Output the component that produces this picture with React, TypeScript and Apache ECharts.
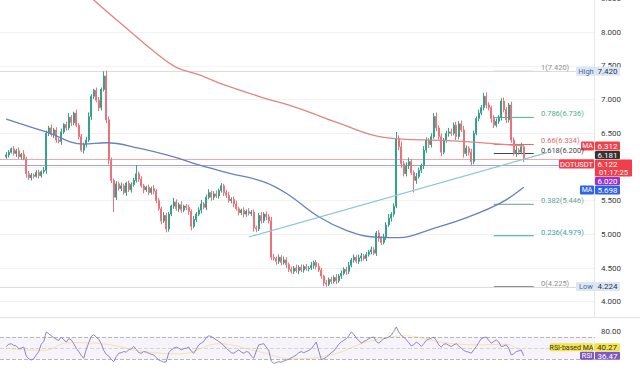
import React, { useEffect, useRef } from "react";
import * as echarts from "echarts";

// ---------- DATA ----------
const firstOpen = 6.15;
const closes = [
  6.18, 6.22, 6.27, 6.2, 6.24, 6.15, 6.19, 6.12, 5.9, 5.84,
  5.88, 5.86, 5.92, 5.87, 5.93, 5.95, 6.5, 6.58, 6.48, 6.55,
  6.4, 6.38, 6.52, 6.63, 6.58, 6.74, 6.66, 6.8, 6.62, 6.45,
  6.25, 6.33, 6.4, 6.75, 7.05, 7.14, 6.99, 6.88, 7.15, 7.35,
  6.7, 6.1, 5.8, 5.55, 5.75, 5.68, 5.72, 5.62, 5.76, 5.66,
  5.74, 5.8, 5.9, 5.82, 5.72, 5.66, 5.7, 5.62, 5.68, 5.64,
  5.5, 5.38, 5.2, 5.28, 5.08, 5.3, 5.42, 5.48, 5.38, 5.44,
  5.36, 5.42, 5.4, 5.34, 5.12, 5.22, 5.3, 5.36, 5.45, 5.4,
  5.55, 5.62, 5.55, 5.6, 5.57, 5.65, 5.72, 5.62, 5.58, 5.5,
  5.52, 5.45, 5.38, 5.32, 5.36, 5.3, 5.34, 5.31, 5.33, 5.1,
  5.08, 5.28, 5.2, 5.3, 5.26, 5.2, 4.66, 4.64, 4.6, 4.66,
  4.58, 4.62, 4.55, 4.48, 4.45, 4.5, 4.46, 4.51, 4.47, 4.52,
  4.49, 4.5, 4.54, 4.58, 4.52, 4.47, 4.38, 4.28, 4.26, 4.33,
  4.3, 4.36, 4.31, 4.38, 4.42, 4.48, 4.45, 4.54, 4.62, 4.66,
  4.6, 4.65, 4.68, 4.64, 4.7, 4.74, 4.77, 4.72, 5.02, 4.94,
  4.88, 4.96, 5.14, 5.24, 5.3, 5.42, 6.42, 6.3, 6.05, 5.9,
  6.02, 6.08, 5.92, 5.8, 5.86, 5.95, 6.02, 6.25, 6.4, 6.33,
  6.45, 6.75, 6.58, 6.45, 6.22, 6.4, 6.5, 6.52, 6.5, 6.62,
  6.45, 6.64, 6.55, 6.2, 6.28, 6.22, 6.08, 6.5, 6.72, 6.8,
  6.88, 7.05, 6.92, 6.88, 6.72, 6.62, 6.68, 6.74, 6.98, 6.85,
  6.7, 6.92, 6.4, 6.2, 6.25, 6.22, 6.3, 6.122,
];
// wick lengths in cents
const upperWicks = [
  4, 3, 2, 4, 3, 5, 2, 6, 3, 4, 3, 2, 3, 4, 2, 5, 4, 3, 5, 3,
  4, 3, 5, 2, 4, 6, 3, 2, 5, 3, 4, 3, 5, 6, 3, 2, 4, 5, 3, 7,
  8, 5, 4, 3, 4, 3, 5, 3, 2, 4, 3, 4, 13, 3, 4, 3, 2, 4, 3, 5,
  3, 4, 3, 5, 4, 3, 2, 6, 4, 3, 5, 2, 3, 4, 3, 5, 3, 4, 6, 3,
  4, 5, 3, 4, 5, 3, 4, 3, 4, 5, 3, 4, 5, 3, 2, 4, 3, 5, 3, 4,
  3, 4, 5, 3, 4, 4, 6, 5, 3, 4, 3, 5, 4, 3, 4, 3, 5, 3, 4, 3,
  4, 3, 5, 3, 4, 5, 3, 2, 4, 3, 4, 3, 5, 3, 4, 3, 4, 5, 3, 4,
  3, 5, 4, 3, 4, 3, 5, 4, 3, 4, 3, 5, 4, 6, 3, 4, 10, 5, 8, 4,
  5, 6, 4, 3, 5, 4, 3, 6, 4, 3, 5, 5, 6, 4, 5, 3, 4, 6, 5, 4,
  5, 4, 5, 6, 4, 3, 5, 4, 3, 5, 4, 5, 6, 4, 3, 5, 4, 3, 4, 5,
  4, 3, 5, 4, 6, 3, 6, 3,
];
const lowerWicks = [
  3, 4, 2, 3, 5, 3, 4, 2, 6, 3, 4, 3, 2, 4, 3, 3, 5, 4, 3, 5,
  4, 3, 5, 3, 4, 3, 5, 4, 3, 4, 3, 5, 4, 3, 5, 4, 3, 5, 4, 3,
  5, 6, 4, 22, 4, 3, 4, 3, 5, 3, 4, 3, 3, 4, 3, 5, 3, 4, 3, 5,
  4, 3, 5, 3, 5, 4, 3, 4, 3, 5, 4, 3, 4, 5, 6, 3, 4, 3, 5, 3,
  4, 3, 5, 4, 3, 4, 3, 5, 4, 3, 4, 5, 3, 4, 3, 5, 4, 3, 4, 6,
  5, 3, 4, 3, 5, 4, 4, 3, 5, 4, 4, 3, 5, 4, 3, 4, 3, 5, 3, 4,
  3, 4, 3, 5, 4, 3, 4, 5, 4, 3, 4, 3, 5, 3, 4, 3, 5, 4, 3, 4,
  3, 4, 5, 3, 4, 3, 4, 3, 4, 5, 4, 3, 4, 3, 5, 4, 3, 5, 6, 4,
  4, 5, 4, 18, 5, 3, 4, 5, 4, 5, 4, 3, 5, 4, 6, 3, 4, 5, 4, 3,
  5, 4, 3, 6, 4, 5, 5, 4, 3, 4, 3, 4, 5, 4, 6, 4, 3, 4, 5, 4,
  5, 4, 4, 3, 5, 4, 3, 5,
];
const rsiValues = [
  53, 57, 58, 55, 54, 49, 50, 52, 36, 31, 29, 31, 38, 44, 57, 62, 79, 76, 72, 69,
  66, 64, 70, 65, 61, 67, 65, 58, 50, 44, 37, 32, 48, 60, 71, 74, 70, 66, 58, 46,
  39, 36, 30, 26, 35, 41, 42, 44, 43, 47, 49, 53, 48, 42, 41, 44, 43, 41, 39, 38,
  33, 29, 27, 25, 26, 42, 47, 50, 52, 50, 47, 49, 50, 52, 45, 41, 48, 56, 59, 62,
  69, 72, 71, 68, 65, 62, 59, 55, 50, 46, 42, 41, 44, 47, 43, 41, 44, 43, 36, 32,
  45, 56, 57, 58, 52, 46, 27, 23, 24, 26, 25, 27, 29, 30, 33, 35, 38, 42, 44, 42,
  44, 46, 49, 55, 61, 45, 30, 31, 34, 38, 42, 45, 51, 57, 61, 64, 67, 72, 79, 75,
  68, 64, 59, 62, 64, 67, 69, 70, 62, 59, 63, 67, 68, 70, 73, 80, 88, 79, 73, 70,
  65, 60, 54, 56, 61, 58, 53, 58, 64, 66, 68, 70, 64, 56, 52, 57, 58, 55, 53, 56,
  58, 54, 50, 46, 44, 43, 41, 47, 53, 60, 67, 69, 70, 64, 59, 62, 65, 61, 53, 54,
  56, 50, 38, 40, 44, 45, 47, 36.47,
];
// [category index, value] anchors
const rsiMaPoints = [
  [2, 50], [17, 46], [27, 60], [42, 57], [57, 44], [72, 40], [87, 58], [102, 45],
  [117, 31], [132, 38], [147, 62], [162, 72], [177, 60], [192, 56], [202, 57], [209, 40.27],
];
const maRedPoints = [
  [33, 8.63], [37, 8.48], [51, 8.03], [62, 7.69], [70, 7.48], [79, 7.37], [87, 7.25],
  [103, 7.05], [119, 6.87], [135, 6.65], [153, 6.44], [179, 6.39], [209, 6.312],
];
const maBluePoints = [
  [2, 6.71], [18, 6.52], [33, 6.34], [42, 6.36], [55, 6.28], [69, 6.15], [79, 6.03],
  [91, 5.91], [105, 5.78], [114, 5.61], [127, 5.26], [138, 5.06], [149, 4.96],
  [159, 4.95], [173, 5.09], [187, 5.26], [200, 5.47], [209, 5.698],
];
const trendPoints = [[99, 4.96], [218, 6.21]];
const fibRatios = ["1", "0.786", "0.66", "0.618", "0.382", "0.236", "0"];
const fibValues = [7.42, 6.736, 6.334, 6.2, 5.446, 4.979, 4.225];
const fibRange = [197, 213];
const highValue = 7.42;
const lowValue = 4.224;
const maRedLast = 6.312;
const maBlueLast = 5.698;
const prevValue = 6.181;
const lastPrice = 6.122;
const purpleValue = 6.02;
const countdown = "01:17:25";
const symbol = "DOTUSDT";
const rsiLast = 36.47;
const rsiMaLast = 40.27;
const rsiBands = [70, 50, 30];
const hiddenPriceTicks = [3.5, 6.0];

// ---------- STYLE ----------
const PAD_LEFT = 2;
const PAD_RIGHT = 28;
const UP = "#35a08b";
const DOWN = "#ec727a";
const fibColors = ["#8f8f8f", "#4fae8c", "#e06a6a", "#444444", "#6a9f94", "#3fa3a3", "#8f8f8f"];
const FONT = 'Roboto, "Noto Sans", sans-serif';

export default function App() {
  const ref = useRef<HTMLDivElement>(null);

  useEffect(() => {
    const chart = echarts.init(ref.current!, null, { renderer: "svg" });
    const total = PAD_LEFT + closes.length + PAD_RIGHT;
    const categories = Array.from({ length: total }, (_, k) => String(k));
    const candleData = closes.map((c, i) => {
      const o = i === 0 ? firstOpen : closes[i - 1];
      const h = Math.max(o, c) + upperWicks[i] / 100;
      const l = Math.min(o, c) - lowerWicks[i] / 100;
      return [i + PAD_LEFT, o, c, +l.toFixed(3), +h.toFixed(3)];
    });
    const rsiData = rsiValues.map((v, i) => [i + PAD_LEFT, v]);

    const fibSeries = fibValues.map((v, j) => ({
      type: "line",
      xAxisIndex: 0,
      yAxisIndex: 0,
      data: [[fibRange[0], v], [fibRange[1], v]],
      symbol: "none",
      silent: true,
      lineStyle: { color: fibColors[j], width: 1 },
      z: 4,
    }));

    const option: any = {
      animation: false,
      backgroundColor: "#ffffff",
      grid: [
        { left: 0, right: 45, top: -1.4, height: 336.75, outerBoundsMode: "none", containLabel: false },
        { left: 0, right: 45, top: 320.2, height: 56, outerBoundsMode: "none", containLabel: false },
      ],
      xAxis: [
        {
          type: "category", gridIndex: 0, data: categories, boundaryGap: true,
          axisLine: { show: false }, axisTick: { show: false }, axisLabel: { show: false },
          splitLine: { show: false },
        },
        {
          type: "category", gridIndex: 1, data: categories, boundaryGap: true,
          axisLine: { show: false }, axisTick: { show: false }, axisLabel: { show: false },
          splitLine: { show: false },
        },
      ],
      yAxis: [
        {
          type: "value", gridIndex: 0, position: "right", min: 3.5, max: 8.5, interval: 0.5,
          axisLine: { show: false }, axisTick: { show: false },
          axisLabel: {
            color: "#3a3a3a", fontSize: 8, fontFamily: FONT, margin: 6,
            formatter: (v: number) => (hiddenPriceTicks.some((t) => Math.abs(t - v) < 1e-6) ? "" : v.toFixed(3)),
          },
          splitLine: { show: true, showMinLine: false, lineStyle: { color: "#f2f2f2", width: 1 } },
        },
        {
          type: "value", gridIndex: 1, position: "right", min: 0, max: 100, interval: 10,
          axisLine: { show: false }, axisTick: { show: false },
          axisLabel: {
            color: "#3a3a3a", fontSize: 8, fontFamily: FONT, margin: 6,
            formatter: (v: number) => (v === 80 ? v.toFixed(2) : ""),
          },
          splitLine: { show: false },
        },
      ],
      series: [
        {
          type: "candlestick",
          xAxisIndex: 0, yAxisIndex: 0,
          data: candleData,
          encode: { x: 0, y: [1, 2, 3, 4] },
          barWidth: "70%",
          itemStyle: { color: UP, color0: DOWN, borderColor: UP, borderColor0: DOWN, borderWidth: 1 },
          z: 5,
          markLine: {
            silent: true, symbol: ["none", "none"], label: { show: false },
            data: [
              { yAxis: highValue, lineStyle: { color: "#dcdcdc", width: 1, type: "solid" } },
              { yAxis: lowValue, lineStyle: { color: "#dcdcdc", width: 1, type: "solid" } },
              { yAxis: lastPrice, lineStyle: { color: "#f1a8ad", width: 1, type: "solid" } },
              { yAxis: purpleValue, lineStyle: { color: "#a79fd0", width: 1.2, type: "solid" } },
            ],
          },
        },
        {
          type: "line", xAxisIndex: 0, yAxisIndex: 0, data: maRedPoints, smooth: 0.4,
          symbol: "none", silent: true, clip: true,
          lineStyle: { color: "#e08683", width: 1.3 }, z: 6,
        },
        {
          type: "line", xAxisIndex: 0, yAxisIndex: 0, data: maBluePoints, smooth: 0.4,
          symbol: "none", silent: true, clip: true,
          lineStyle: { color: "#6581c0", width: 1.3 }, z: 6,
        },
        {
          type: "line", xAxisIndex: 0, yAxisIndex: 0, data: trendPoints,
          symbol: "none", silent: true,
          lineStyle: { color: "#8cc6d5", width: 1.2 }, z: 6,
        },
        ...fibSeries,
        {
          type: "line", xAxisIndex: 1, yAxisIndex: 1, data: rsiData,
          symbol: "none", silent: true,
          lineStyle: { color: "#8f84c2", width: 1 }, z: 6,
          markArea: {
            silent: true,
            itemStyle: { color: "rgba(126,87,194,0.07)" },
            data: [[{ yAxis: rsiBands[0] }, { yAxis: rsiBands[2] }]],
          },
          markLine: {
            silent: true, symbol: ["none", "none"], label: { show: false },
            data: [
              { yAxis: rsiBands[0], lineStyle: { color: "#b8b8b8", type: "dashed", width: 1 } },
              { yAxis: rsiBands[1], lineStyle: { color: "#d4d4d4", type: "dashed", width: 1 } },
              { yAxis: rsiBands[2], lineStyle: { color: "#b8b8b8", type: "dashed", width: 1 } },
            ],
          },
        },
        {
          type: "line", xAxisIndex: 1, yAxisIndex: 1, data: rsiMaPoints, smooth: 0.4,
          symbol: "none", silent: true,
          lineStyle: { color: "#eed87a", width: 1, opacity: 0.6 }, z: 5,
        },
      ],
    };
    chart.setOption(option);

    const py = (v: number) => chart.convertToPixel({ yAxisIndex: 0 } as any, v) as number;
    const ry = (v: number) => chart.convertToPixel({ yAxisIndex: 1 } as any, v) as number;

    const els: any[] = [];
    const txt = (x: number, y: number, text: string, fill: string, size = 8, align = "center", va = "middle") => ({
      type: "text", x, y, silent: true, z: 101,
      style: {
        text, fill, font: `${size}px ${FONT}`,
        align, verticalAlign: va, textAlign: align, textVerticalAlign: va,
      },
    });
    const rect = (x: number, y: number, w: number, h: number, fill: string) => ({
      type: "rect", silent: true, z: 100,
      shape: { x, y, width: w, height: h, r: 1 }, style: { fill },
    });
    const box = (x: number, y: number, w: number, h: number, bg: string, text: string, color: string, size = 8) => {
      els.push(rect(x, y, w, h, bg));
      els.push(txt(x + w / 2, y + h / 2 + 0.3, text, color, size));
    };

    // separators
    els.push({ type: "line", silent: true, z: 50, shape: { x1: 594.5, y1: 0, x2: 594.5, y2: 317 }, style: { stroke: "#e6e6e6", lineWidth: 1 } });
    els.push({ type: "line", silent: true, z: 50, shape: { x1: 0, y1: 317.5, x2: 640, y2: 317.5 }, style: { stroke: "#e2e2e2", lineWidth: 1 } });

    // fib labels
    fibValues.forEach((v, j) => {
      els.push(txt(541, py(v) + 0.5, `${fibRatios[j]}(${v.toFixed(3)})`, fibColors[j], 7.5, "left", "bottom"));
    });

    const H = 9;
    // High / Low
    [[highValue, "High"], [lowValue, "Low"]].forEach(([v, name]) => {
      const y = py(v as number) - H / 2;
      els.push(rect(576, y, 44, H, "#dce7f6"));
      els.push(txt(586, y + H / 2 + 0.3, name as string, "#4a6c9e", 7.5));
      els.push(txt(607.5, y + H / 2 + 0.3, (v as number).toFixed(3), "#2a3550", 8));
    });

    // MA red
    let yTop = py(maRedLast) - H / 2;
    box(581, yTop, 13, H, "#ef424c", "MA", "#ffffff", 7);
    box(595, yTop, 25, H, "#ef424c", maRedLast.toFixed(3), "#ffffff");
    // prev value (dark)
    yTop = Math.max(py(prevValue) - 4, yTop + H + 0.5);
    box(595, yTop, 25, 8, "#333333", prevValue.toFixed(3), "#ffffff");
    // DOTUSDT
    yTop = Math.max(py(lastPrice), yTop + 8 + 0.5);
    box(559, yTop, 35, H, "#ef3f4a", symbol, "#ffffff", 7.5);
    els.push(rect(595, yTop, 37, 17, "#ef3f4a"));
    els.push(txt(607.5, yTop + 4.8, lastPrice.toFixed(3), "#ffffff", 8));
    els.push(txt(613.5, yTop + 12.8, countdown, "#ffffff", 7.5));
    // purple
    yTop = Math.max(py(purpleValue) - 4, yTop + 17 + 0.5);
    box(595, yTop, 25, 8, "#9a34c9", purpleValue.toFixed(3), "#ffffff");
    // MA blue
    yTop = Math.max(py(maBlueLast) - H / 2, yTop + 8 + 0.5);
    box(580, yTop, 14, H, "#2f62e6", "MA", "#ffffff", 7);
    box(595, yTop, 25, H, "#2f62e6", maBlueLast.toFixed(3), "#ffffff");

    // RSI labels
    const rsiTop = ry(rsiLast) - 4;
    box(580, rsiTop, 14, 8, "#7e57c2", "RSI", "#ffffff", 7);
    box(595, rsiTop, 25, 8, "#7e57c2", rsiLast.toFixed(2), "#ffffff");
    const maTop = Math.min(ry(rsiMaLast) - 4, rsiTop - 8 - 0.5);
    box(550, maTop, 43, 8, "#f4e34a", "RSI-based MA", "#333333", 7);
    box(594, maTop, 26, 8, "#f4e34a", rsiMaLast.toFixed(2), "#333333");

    chart.setOption({ graphic: { elements: els } });

    return () => chart.dispose();
  }, []);

  return <div ref={ref} style={{ position: "absolute", left: 0, top: 0, width: 640, height: 374 }} />;
}
